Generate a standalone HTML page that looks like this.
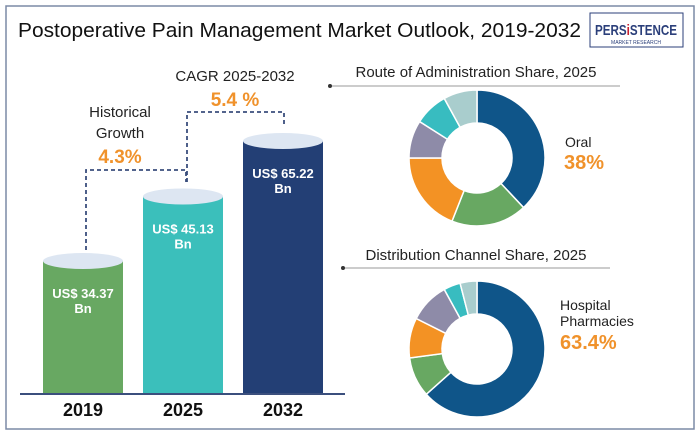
<!DOCTYPE html>
<html><head><meta charset="utf-8"><style>
body{margin:0;width:700px;height:435px;background:#fff;overflow:hidden;font-family:"Liberation Sans",sans-serif}
</style></head><body>
<svg width="700" height="435" viewBox="0 0 700 435" xmlns="http://www.w3.org/2000/svg" font-family="Liberation Sans, sans-serif">
<rect x="6" y="6" width="688" height="423" fill="none" stroke="#7b8aa6" stroke-width="1.5"/>
<text x="18" y="37" font-size="20" fill="#111" textLength="563" lengthAdjust="spacingAndGlyphs">Postoperative Pain Management Market Outlook, 2019-2032</text>
<g>
<rect x="590" y="13" width="93" height="34" fill="#fff" stroke="#2b3f7a" stroke-width="1"/>
<text x="636" y="35" font-size="15" font-weight="bold" text-anchor="middle" fill="#2b3f7a" textLength="82" lengthAdjust="spacingAndGlyphs">PERS<tspan fill="#c8202f">i</tspan>STENCE</text>
<text x="636" y="44" font-size="5" text-anchor="middle" fill="#2b3f7a">MARKET RESEARCH</text>
</g>
<g id="bars"></g>
<line x1="20" y1="394" x2="345" y2="394" stroke="#3b4f7d" stroke-width="2"/>
<g id="conn" fill="none" stroke="#3b4f7d" stroke-width="1.8" stroke-dasharray="4,3">
<path d="M86 250 V170 H186 V182"/>
<path d="M187 182 V112 H284 V124"/>
</g>
<text x="120" y="117" font-size="15" text-anchor="middle" fill="#222">Historical</text>
<text x="120" y="138" font-size="15" text-anchor="middle" fill="#222">Growth</text>
<text x="120" y="163" font-size="19" font-weight="bold" text-anchor="middle" fill="#f0922b">4.3%</text>
<text x="235" y="81" font-size="15" text-anchor="middle" fill="#222">CAGR 2025-2032</text>
<text x="235" y="106" font-size="19" font-weight="bold" text-anchor="middle" fill="#f0922b">5.4 %</text>
<g>
<text x="476" y="77" font-size="15" text-anchor="middle" fill="#222">Route of Administration Share, 2025</text>
<line x1="330" y1="86" x2="620" y2="86" stroke="#999" stroke-width="1"/><circle cx="330" cy="86" r="2" fill="#333"/>
</g>
<g>
<text x="476" y="260" font-size="15" text-anchor="middle" fill="#222">Distribution Channel Share, 2025</text>
<line x1="343" y1="268" x2="610" y2="268" stroke="#999" stroke-width="1"/><circle cx="343" cy="268" r="2" fill="#333"/>
</g>
<g id="d1"></g><g id="d2"></g>
<text x="565" y="147" font-size="14" fill="#222">Oral</text>
<text x="564" y="169" font-size="20" font-weight="bold" fill="#f0922b">38%</text>
<text x="560" y="310" font-size="14" fill="#222">Hospital</text>
<text x="560" y="326" font-size="14" fill="#222">Pharmacies</text>
<text x="560" y="349" font-size="20" font-weight="bold" fill="#f0922b">63.4%</text>
</svg>
<script>
const years=["2019","2025","2032"];
const values=[34.37,45.13,65.22];
const valueLabels=["US$ 34.37","US$ 45.13","US$ 65.22"];
const routeShares=[38,18,19,9,8,8];
const channelShares=[63.4,9.5,9.5,9.6,4,4];
const NS="http://www.w3.org/2000/svg";
const barColors=["#68a862","#3bbfbb","#233f75"];
const baseY=393;
const vMin=34.37,vMax=65.22;
function h(v){return 252-120*Math.pow(Math.max(0,(vMax-v)/(vMax-vMin)),1.8);}
function xPos(i){return 43+i*100;}
const bars=document.getElementById('bars');
function mk(t,a,p){const e=document.createElementNS(NS,t);for(const k in a)e.setAttribute(k,a[k]);p.appendChild(e);return e;}
values.forEach((v,i)=>{
 const x=xPos(i),w=80,top=baseY-h(v);
 const r=mk('rect',{x:x,y:top,width:w,height:baseY-top,fill:barColors[i]},bars);
 
 
 const e=mk('ellipse',{cx:x+w/2,cy:top,rx:w/2,ry:8,fill:"#dde6f2"},bars);
 
 
 const t1=mk('text',{x:x+w/2,y:top+37,"font-size":13,"font-weight":"bold","text-anchor":"middle",fill:"#fff"},bars);t1.textContent=valueLabels[i];
 
 
 const t2=mk('text',{x:x+w/2,y:top+52,"font-size":13,"font-weight":"bold","text-anchor":"middle",fill:"#fff"},bars);t2.textContent="Bn";
 
 
 const yl=mk('text',{x:x+w/2,y:416,"font-size":18,"font-weight":"bold","text-anchor":"middle",fill:"#111"},bars);yl.textContent=years[i];
 
 
});
const sliceColors=["#0f5589","#68a862","#f39224","#8e8ba8","#38bcc0","#a9cdcd"];
function donut(g,data,cx,cy,R,r,name){
 const tot=data.reduce((a,b)=>a+b,0);let a0=-Math.PI/2;
 data.forEach((v,i)=>{
  const a1=a0+v/tot*2*Math.PI,lg=(a1-a0)>Math.PI?1:0;
  const p=(a,rr)=>[cx+rr*Math.cos(a),cy+rr*Math.sin(a)];
  const [x1,y1]=p(a0,R),[x2,y2]=p(a1,R),[x3,y3]=p(a1,r),[x4,y4]=p(a0,r);
  const d=`M${x1} ${y1}A${R} ${R} 0 ${lg} 1 ${x2} ${y2}L${x3} ${y3}A${r} ${r} 0 ${lg} 0 ${x4} ${y4}Z`;
  const s=mk('path',{d:d,fill:sliceColors[i],stroke:"#fff","stroke-width":1.5},g);
  
  
  a0=a1;});
}
donut(document.getElementById('d1'),routeShares,477,158,68,35,'route');
donut(document.getElementById('d2'),channelShares,477,349,68,35,'channel');
</script>
</body></html>
